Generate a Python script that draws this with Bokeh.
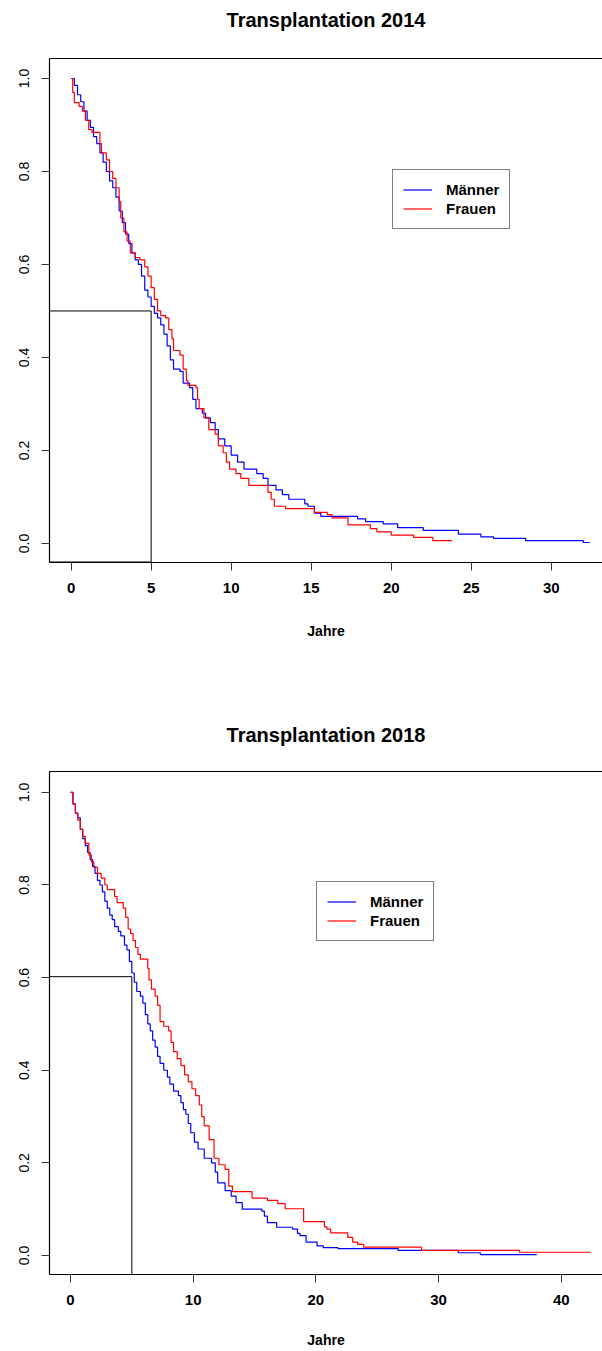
from bokeh.plotting import figure
from bokeh.models import (LinearAxis, FixedTicker, PrintfTickFormatter, Legend,
                          LegendItem, Range1d)
from bokeh.layouts import column
from bokeh.embed import file_html
from bokeh.resources import INLINE

# ---------------- data ----------------
titles = ["Transplantation 2014", "Transplantation 2018"]
series_labels = ["Männer", "Frauen"]
x_label = "Jahre"
y_ticks = [0.0, 0.2, 0.4, 0.6, 0.8, 1.0]
x_ticks_2014 = [0, 5, 10, 15, 20, 25, 30]
x_ticks_2018 = [0, 10, 20, 30, 40]

men_2014_t = [0, 0.2, 0.4, 0.6, 0.8, 1.0, 1.2, 1.4, 1.6, 1.8, 2.0, 2.2, 2.4, 2.6, 2.8,
              3.0, 3.2, 3.4, 3.6, 3.8, 4.0, 4.2, 4.4, 4.6, 4.8, 5.0, 5.2, 5.4, 5.6, 5.8,
              6.0, 6.2, 6.4, 6.8, 7.0, 7.4, 7.6, 7.8, 8.2, 8.4, 8.7, 9.0, 9.2, 9.6, 10.0,
              10.4, 10.8, 11.6, 12.0, 12.3, 12.8, 13.2, 13.6, 14.6, 14.8, 15.2, 15.6,
              17.9, 18.4, 19.5, 20.4, 22.0, 24.2, 25.6, 26.4, 28.4, 32.0, 32.4]
men_2014_s = [1.0, 0.985, 0.965, 0.95, 0.93, 0.91, 0.895, 0.875, 0.86, 0.84, 0.82, 0.80,
              0.78, 0.765, 0.745, 0.715, 0.69, 0.665, 0.645, 0.625, 0.61, 0.60, 0.575,
              0.545, 0.53, 0.51, 0.495, 0.485, 0.47, 0.45, 0.425, 0.395, 0.375, 0.37,
              0.345, 0.335, 0.31, 0.29, 0.28, 0.27, 0.26, 0.245, 0.225, 0.21, 0.19,
              0.175, 0.16, 0.15, 0.14, 0.125, 0.115, 0.105, 0.095, 0.085, 0.08, 0.065,
              0.058, 0.053, 0.047, 0.042, 0.034, 0.028, 0.02, 0.014, 0.011, 0.006,
              0.002, 0.002]

women_2014_t = [0, 0.1, 0.2, 0.5, 0.7, 0.9, 1.1, 1.3, 1.8, 1.9, 2.2, 2.4, 2.6, 2.8, 3.0,
                3.1, 3.3, 3.5, 3.7, 4.0, 4.3, 4.6, 4.8, 5.0, 5.2, 5.4, 5.6, 5.9, 6.1, 6.3,
                6.4, 6.8, 7.0, 7.2, 7.3, 7.8, 7.9, 8.0, 8.3, 8.6, 9.0, 9.2, 9.5, 9.7, 9.9,
                10.3, 10.6, 11.1, 12.3, 12.5, 12.7, 13.4, 15.2, 16.0, 16.3, 17.3, 18.7,
                19.1, 20.0, 21.4, 22.6, 23.8]
women_2014_s = [1.0, 0.97, 0.948, 0.94, 0.93, 0.91, 0.89, 0.884, 0.86, 0.84, 0.825, 0.80,
                0.785, 0.765, 0.735, 0.70, 0.67, 0.65, 0.625, 0.615, 0.61, 0.595, 0.575,
                0.55, 0.525, 0.50, 0.49, 0.485, 0.46, 0.44, 0.415, 0.405, 0.375, 0.35,
                0.34, 0.335, 0.31, 0.29, 0.27, 0.245, 0.235, 0.21, 0.195, 0.175, 0.16,
                0.15, 0.14, 0.125, 0.11, 0.095, 0.08, 0.075, 0.067, 0.062, 0.055, 0.04,
                0.032, 0.025, 0.018, 0.013, 0.006, 0.006]

men_2018_t = [0, 0.2, 0.4, 0.6, 0.8, 1.0, 1.2, 1.4, 1.6, 1.8, 2.0, 2.2, 2.4, 2.6, 2.8,
              3.0, 3.2, 3.4, 3.6, 3.9, 4.1, 4.4, 4.6, 4.8, 5.0, 5.2, 5.4, 5.7, 5.9, 6.1,
              6.3, 6.5, 6.7, 6.9, 7.1, 7.3, 7.6, 7.9, 8.1, 8.4, 8.8, 9.0, 9.2, 9.4, 9.6,
              9.8, 10.1, 10.4, 10.9, 11.5, 11.8, 12.0, 12.6, 13.1, 13.5, 14.0, 15.6, 15.8,
              16.05, 16.8, 18.1, 18.5, 18.7, 19.2, 20.1, 20.6, 21.8, 26.7, 31.6, 33.4, 38.0]
men_2018_s = [1.0, 0.975, 0.955, 0.945, 0.92, 0.90, 0.885, 0.87, 0.855, 0.84, 0.825, 0.81,
              0.80, 0.785, 0.765, 0.75, 0.735, 0.725, 0.71, 0.70, 0.69, 0.67, 0.66, 0.635,
              0.61, 0.59, 0.57, 0.56, 0.545, 0.52, 0.50, 0.485, 0.465, 0.45, 0.43, 0.415,
              0.40, 0.385, 0.37, 0.355, 0.345, 0.33, 0.315, 0.305, 0.285, 0.265, 0.245,
              0.23, 0.21, 0.20, 0.18, 0.157, 0.14, 0.128, 0.114, 0.10, 0.096, 0.085, 0.071,
              0.061, 0.057, 0.048, 0.043, 0.029, 0.021, 0.017, 0.015, 0.011, 0.006, 0.002,
              0.002]

women_2018_t = [0, 0.2, 0.4, 0.6, 0.8, 1.0, 1.2, 1.5, 1.7, 1.9, 2.2, 2.5, 2.8, 3.0, 3.6,
                3.8, 4.3, 4.5, 4.7, 4.9, 5.1, 5.3, 5.5, 5.7, 6.3, 6.4, 6.6, 6.9, 7.1, 7.3,
                7.6, 8.0, 8.2, 8.4, 8.7, 9.0, 9.3, 9.6, 9.9, 10.2, 10.5, 10.7, 10.9, 11.3,
                11.7, 12.1, 12.6, 12.9, 13.2, 14.8, 16.05, 16.9, 17.5, 19.0, 20.7, 20.9,
                21.2, 22.6, 23.0, 23.4, 23.9, 28.6, 36.6, 42.4]
women_2018_s = [1.0, 0.975, 0.955, 0.94, 0.92, 0.905, 0.89, 0.865, 0.85, 0.838, 0.825,
                0.815, 0.80, 0.79, 0.775, 0.762, 0.75, 0.73, 0.705, 0.695, 0.68, 0.665,
                0.65, 0.64, 0.62, 0.595, 0.575, 0.56, 0.54, 0.505, 0.495, 0.485, 0.46, 0.44,
                0.425, 0.41, 0.39, 0.375, 0.36, 0.345, 0.325, 0.30, 0.28, 0.25, 0.21, 0.196,
                0.186, 0.15, 0.138, 0.124, 0.119, 0.112, 0.101, 0.073, 0.062, 0.057, 0.049,
                0.039, 0.029, 0.024, 0.018, 0.011, 0.007, 0.007]

five_year = 5
five_year_surv_2014 = 0.5
five_year_surv_2018 = 0.602

FONT = "Liberation Sans"


def make_fig(title, height, min_top, min_bottom, xr, yr, xticks,
             mt, ms, wt, ws, surv5, bottom_seg, legend_loc, title_gap, lab_standoff):
    p = figure(width=602, height=height, x_range=Range1d(*xr), y_range=Range1d(*yr),
               output_backend="svg", toolbar_location=None,
               x_axis_type=None, y_axis_type=None,
               min_border_left=49, min_border_right=0,
               min_border_top=min_top, min_border_bottom=min_bottom)
    p.outline_line_color = None
    p.background_fill_color = "white"
    p.border_fill_color = "white"

    left = LinearAxis(ticker=FixedTicker(ticks=y_ticks),
                      formatter=PrintfTickFormatter(format="%.1f"))
    left.major_label_orientation = "vertical"
    left.major_label_text_font = FONT
    left.major_label_text_font_size = "14px"
    left.major_label_text_color = "black"
    left.major_label_standoff = 12
    left.major_tick_out = 8
    left.major_tick_in = 0
    left.minor_tick_line_color = None
    left.axis_line_width = 1.2
    left.axis_line_color = "black"
    left.major_tick_line_color = "#333333"
    p.add_layout(left, "left")

    below = LinearAxis(ticker=FixedTicker(ticks=xticks), axis_label=x_label)
    below.major_label_text_font = FONT
    below.major_label_text_font_style = "bold"
    below.major_label_text_font_size = "15px"
    below.major_label_text_color = "black"
    below.major_label_standoff = 12
    below.major_tick_out = 8
    below.major_tick_in = 0
    below.minor_tick_line_color = None
    below.axis_line_width = 1.2
    below.axis_line_color = "black"
    below.major_tick_line_color = "#333333"
    below.axis_label_text_font = FONT
    below.axis_label_text_font_style = "bold"
    below.axis_label_text_font_size = "14px"
    below.axis_label_text_color = "black"
    below.axis_label_standoff = lab_standoff
    p.add_layout(below, "below")

    # top border line of the box, carrying the chart title as its label
    top = LinearAxis(ticker=FixedTicker(ticks=[]), axis_label=title)
    top.major_tick_out = 0
    top.major_tick_in = 0
    top.minor_tick_line_color = None
    top.major_label_standoff = 0
    top.axis_line_width = 1.2
    top.axis_line_color = "black"
    top.axis_label_text_font = FONT
    top.axis_label_text_font_style = "bold"
    top.axis_label_text_font_size = "20px"
    top.axis_label_text_color = "black"
    top.axis_label_standoff = title_gap
    p.add_layout(top, "above")

    # five-year reference lines
    p.segment(x0=[xr[0], five_year], y0=[surv5, yr[0]], x1=[five_year, five_year],
              y1=[surv5, surv5], line_color="black", line_width=1)
    if bottom_seg:
        p.segment(x0=[xr[0]], y0=[yr[0]], x1=[five_year], y1=[yr[0]],
                  line_color="black", line_width=2)

    r_m = p.step(mt, ms, mode="after", line_color="#0000FF", line_width=1.2)
    r_w = p.step(wt, ws, mode="after", line_color="#FF0000", line_width=1.2)

    legend = Legend(items=[LegendItem(label=series_labels[0], renderers=[r_m]),
                           LegendItem(label=series_labels[1], renderers=[r_w])],
                    location=legend_loc)
    legend.label_text_font = FONT
    legend.label_text_font_style = "bold"
    legend.label_text_font_size = "15px"
    legend.label_text_color = "black"
    legend.glyph_width = 29
    legend.glyph_height = 19
    legend.label_height = 19
    legend.label_standoff = 14
    legend.spacing = 0
    legend.padding = 10
    legend.margin = 0
    legend.border_line_color = "black"
    legend.border_line_width = 1
    legend.background_fill_alpha = 1
    p.add_layout(legend)
    return p


p1 = make_fig(titles[0], 700, 58, 138, (-1.35, 33.2), (-0.041, 1.043), x_ticks_2014,
              men_2014_t, men_2014_s, women_2014_t, women_2014_s,
              five_year_surv_2014, True, (343, 333), 28, 27)
p2 = make_fig(titles[1], 651, 71, 77, (-1.71, 43.36), (-0.041, 1.045), x_ticks_2018,
              men_2018_t, men_2018_s, women_2018_t, women_2018_s,
              five_year_surv_2018, False, (267, 333), 26, 24)

layout = column(p1, p2, spacing=0)
open("out.html", "w").write(file_html(layout, INLINE))
